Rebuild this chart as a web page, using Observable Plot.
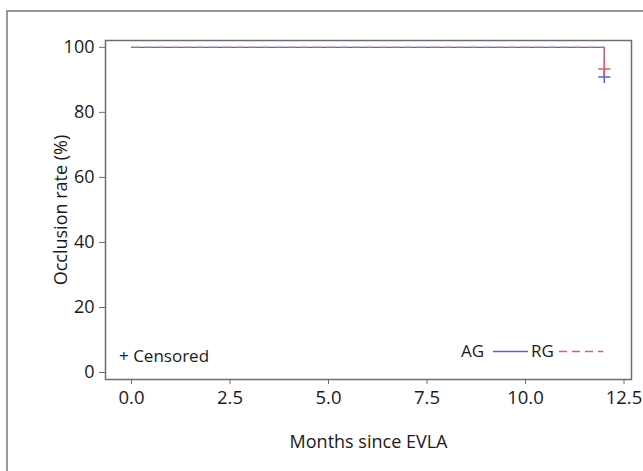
<!DOCTYPE html>
<html>
<head>
<meta charset="utf-8">
<script src="https://cdn.jsdelivr.net/npm/d3@7"></script>
<script src="https://cdn.jsdelivr.net/npm/@observablehq/plot@0.6"></script>
<style>
  html, body { margin: 0; padding: 0; background: #fff; }
  #chart { position: relative; width: 643px; height: 471px; overflow: hidden; }
</style>
</head>
<body>
<div id="chart"></div>
<script>
// ---- data ----
const months = [0, 12];                 // event times
const agRate = [100, 90.9];             // AG occlusion rate (%)
const rgRate = [100, 93.3];             // RG occlusion rate (%)
const groups = ["AG", "RG"];
const censorMonth = [12, 12];
const censorRate = [90.9, 93.3];
const xTicks = [0, 2.5, 5, 7.5, 10, 12.5];
const yTicks = [0, 20, 40, 60, 80, 100];
const colors = {AG: "#5a62c6", RG: "#d4606e"};

const agData = months.map((m, i) => ({month: m, rate: agRate[i], group: "AG"}));
const rgData = months.map((m, i) => ({month: m, rate: rgRate[i], group: "RG"}));
const censorData = censorMonth.map((m, i) => ({month: m, rate: censorRate[i], group: groups[i]}));

const axisColor = "#6e6e6e";
const textColor = "#1a1a1a";

const plot = Plot.plot({
  width: 643,
  height: 471,
  marginLeft: 105,
  marginRight: 12,
  marginTop: 40,
  marginBottom: 92,
  style: {fontFamily: "'Open Sans', sans-serif", fontSize: "18px", color: textColor, background: "#fff"},
  x: {domain: [-0.66, 12.69]},
  y: {domain: [-2.15, 102.1]},
  marks: [
    Plot.axisX({ticks: xTicks, tickFormat: d => d.toFixed(1), tickSize: 5, tickPadding: 6, fontSize: 18.5,
      stroke: axisColor, fill: textColor, label: null}),
    Plot.axisX({ticks: [], label: "Months since EVLA", labelAnchor: "center", labelArrow: "none", labelOffset: 68, fontSize: 18, fill: textColor}),
    Plot.axisY({ticks: yTicks, tickSize: 6, tickPadding: 5, stroke: axisColor, fontSize: 18, fill: textColor, label: null}),
    Plot.axisY({ticks: [], label: "Occlusion rate (%)", labelAnchor: "center", labelArrow: "none", labelOffset: 51, fontSize: 18, fill: textColor}),
    Plot.line(agData, {x: "month", y: "rate", curve: "step-after", stroke: colors.AG, strokeWidth: 1.3}),
    Plot.line(rgData, {x: "month", y: "rate", curve: "step-after", stroke: colors.RG, strokeWidth: 1.3, strokeDasharray: "8,5"}),
    Plot.dot(censorData, {x: "month", y: "rate", symbol: "plus", r: 4, stroke: d => colors[d.group], strokeWidth: 1.5}),
    Plot.frame({stroke: axisColor, strokeWidth: 1.5})
  ]
});

document.getElementById("chart").appendChild(plot);

// legend and outer border
const svg = d3.select(plot);
svg.append("path").attr("d", "M7,471 V11 H643").attr("fill", "none").attr("stroke", "#777").attr("stroke-width", 1.5);
const lg = svg.append("g").attr("font-family", "'Open Sans', sans-serif").attr("font-size", 17)
  .attr("fill", textColor).attr("text-anchor", "start");
lg.append("text").attr("x", 119).attr("y", 356).attr("dy", "0.35em").text("+ Censored");
lg.append("text").attr("x", 484).attr("y", 351).attr("dy", "0.35em").attr("text-anchor", "end").text("AG");
lg.append("line").attr("x1", 493).attr("x2", 528).attr("y1", 351.5).attr("y2", 351.5).attr("stroke", colors.AG).attr("stroke-width", 1.3);
lg.append("text").attr("x", 531).attr("y", 351).attr("dy", "0.35em").text("RG");
lg.append("line").attr("x1", 559).attr("x2", 603).attr("y1", 351.5).attr("y2", 351.5).attr("stroke", colors.RG).attr("stroke-width", 1.3).attr("stroke-dasharray", "8,5");
</script>
</body>
</html>
